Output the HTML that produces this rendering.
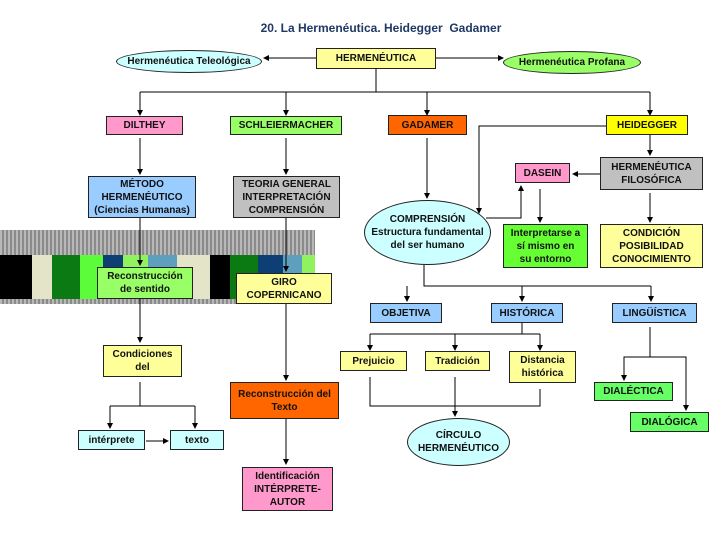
<!DOCTYPE html>
<html><head><meta charset="utf-8"><style>
body{margin:0;width:728px;height:546px;background:#fff;position:relative;overflow:hidden;font-family:"Liberation Sans",Arial,sans-serif;}
.b{position:absolute;box-sizing:border-box;border:1px solid #222;display:flex;align-items:center;justify-content:center;text-align:center;font-size:10px;font-weight:bold;line-height:13px;color:#111;}
.e{border-radius:50%;}
.s{position:absolute;}
</style></head><body>
<div style="position:absolute;left:0;top:21px;width:762px;text-align:center;font-size:12px;font-weight:bold;color:#1f3864;">20. La Hermenéutica. Heidegger&nbsp; Gadamer</div>

<!-- stripe band -->
<div class="s" style="left:0;top:230px;width:315px;height:74px;background:repeating-linear-gradient(90deg,#b8b8b8 0 2px,#8a8a8a 2px 4px);"></div>
<div class="s" style="left:0;top:255px;height:44px;width:315px;display:flex;">
<div style="width:32px;background:#000"></div><div style="width:20px;background:#e4e4c8"></div><div style="width:28px;background:#0b7a12"></div><div style="width:23px;background:#5dfc3a"></div><div style="width:20px;background:#0d3f75"></div><div style="width:25px;background:#8ff25e"></div><div style="width:29px;background:#5f9fbe"></div><div style="width:33px;background:#e4e4c8"></div><div style="width:20px;background:#000"></div><div style="width:28px;background:#0b7a12"></div><div style="width:25px;background:#0d3f75"></div><div style="width:19px;background:#5f9fbe"></div><div style="width:13px;background:#8ff25e"></div>
</div>

<svg class="s" style="left:0;top:0" width="728" height="546">
<defs><marker id="a" markerWidth="6" markerHeight="6" refX="5" refY="3" orient="auto"><path d="M0,0L6,3L0,6z" fill="#000"/></marker></defs>
<g stroke="#000" stroke-width="1" fill="none">
<path d="M316,58H264" marker-end="url(#a)"/>
<path d="M436,58H503" marker-end="url(#a)"/>
<path d="M376,69V92M140,92H650"/>
<path d="M140,92V115" marker-end="url(#a)"/><path d="M286,92V115" marker-end="url(#a)"/><path d="M427,92V115" marker-end="url(#a)"/><path d="M650,92V115" marker-end="url(#a)"/>
<path d="M140,138V174" marker-end="url(#a)"/><path d="M286,138V174" marker-end="url(#a)"/>
<path d="M427,138V198" marker-end="url(#a)"/>
<path d="M606,126H479V213" marker-end="url(#a)"/>
<path d="M650,135V155" marker-end="url(#a)"/>
<path d="M600,174H573" marker-end="url(#a)"/>
<path d="M486,218H521V186" marker-end="url(#a)"/>
<path d="M540,189V222" marker-end="url(#a)"/>
<path d="M650,193V222" marker-end="url(#a)"/>
<path d="M140,218V265" marker-end="url(#a)"/><path d="M286,218V271" marker-end="url(#a)"/>
<path d="M140,299V342" marker-end="url(#a)"/>
<path d="M286,304V380" marker-end="url(#a)"/>
<path d="M286,419V464" marker-end="url(#a)"/>
<path d="M140,382V406M110,406H195M110,406V428" marker-end="url(#a)"/><path d="M195,406V428" marker-end="url(#a)"/>
<path d="M146,441H168" marker-end="url(#a)"/>
<path d="M424,265V286H651M651,286V301" marker-end="url(#a)"/><path d="M407,286V301" marker-end="url(#a)"/><path d="M522,286V301" marker-end="url(#a)"/>
<path d="M522,323V334M370,334H540M370,334V350" marker-end="url(#a)"/><path d="M455,334V350" marker-end="url(#a)"/><path d="M540,334V350" marker-end="url(#a)"/>
<path d="M370,377V406H540V389M455,377V416" marker-end="url(#a)"/>
<path d="M650,327V357H624V380" marker-end="url(#a)"/><path d="M650,357H686V410" marker-end="url(#a)"/>
</g></svg>

<div class="b e" style="left:116px;top:50px;width:146px;height:23px;background:#ccffff;">Hermenéutica Teleológica</div>
<div class="b" style="left:316px;top:48px;width:120px;height:21px;background:#ffff99;">HERMENÉUTICA</div>
<div class="b e" style="left:503px;top:51px;width:138px;height:23px;background:#99ff66;">Hermenéutica Profana</div>
<div class="b" style="left:106px;top:116px;width:77px;height:19px;background:#ff99cc;">DILTHEY</div>
<div class="b" style="left:230px;top:116px;width:112px;height:19px;background:#99ff66;">SCHLEIERMACHER</div>
<div class="b" style="left:388px;top:115px;width:79px;height:20px;background:#ff6600;">GADAMER</div>
<div class="b" style="left:606px;top:115px;width:82px;height:20px;background:#ffff00;">HEIDEGGER</div>
<div class="b" style="left:88px;top:176px;width:108px;height:42px;background:#99ccff;">MÉTODO<br>HERMENÉUTICO<br>(Ciencias Humanas)</div>
<div class="b" style="left:233px;top:176px;width:107px;height:42px;background:#c0c0c0;">TEORIA GENERAL<br>INTERPRETACIÓN<br>COMPRENSIÓN</div>
<div class="b" style="left:515px;top:163px;width:55px;height:20px;background:#ff99cc;">DASEIN</div>
<div class="b" style="left:600px;top:157px;width:103px;height:33px;background:#c0c0c0;">HERMENÉUTICA<br>FILOSÓFICA</div>
<div class="b e" style="left:364px;top:200px;width:127px;height:65px;background:#ccffff;">COMPRENSIÓN<br>Estructura fundamental<br>del ser humano</div>
<div class="b" style="left:503px;top:224px;width:85px;height:44px;background:#66ff33;">Interpretarse a<br>sí mismo en<br>su entorno</div>
<div class="b" style="left:600px;top:224px;width:103px;height:44px;background:#ffff99;">CONDICIÓN<br>POSIBILIDAD<br>CONOCIMIENTO</div>
<div class="b" style="left:97px;top:267px;width:96px;height:32px;background:#99ff66;">Reconstrucción<br>de sentido</div>
<div class="b" style="left:236px;top:273px;width:96px;height:31px;background:#ffff99;">GIRO<br>COPERNICANO</div>
<div class="b" style="left:370px;top:303px;width:72px;height:20px;background:#99ccff;">OBJETIVA</div>
<div class="b" style="left:491px;top:303px;width:72px;height:20px;background:#99ccff;">HISTÓRICA</div>
<div class="b" style="left:612px;top:303px;width:85px;height:20px;background:#99ccff;">LINGÜÍSTICA</div>
<div class="b" style="left:103px;top:345px;width:79px;height:32px;background:#ffff99;">Condiciones<br>del</div>
<div class="b" style="left:340px;top:351px;width:67px;height:20px;background:#ffff99;">Prejuicio</div>
<div class="b" style="left:425px;top:351px;width:65px;height:20px;background:#ffff99;">Tradición</div>
<div class="b" style="left:509px;top:351px;width:67px;height:32px;background:#ffff99;">Distancia<br>histórica</div>
<div class="b" style="left:230px;top:382px;width:109px;height:37px;background:#ff6600;">Reconstrucción del<br>Texto</div>
<div class="b" style="left:594px;top:382px;width:79px;height:19px;background:#66ff66;">DIALÉCTICA</div>
<div class="b" style="left:630px;top:412px;width:79px;height:20px;background:#66ff66;">DIALÓGICA</div>
<div class="b e" style="left:407px;top:418px;width:103px;height:48px;background:#ccffff;">CÍRCULO<br>HERMENÉUTICO</div>
<div class="b" style="left:78px;top:430px;width:67px;height:20px;background:#ccffff;">intérprete</div>
<div class="b" style="left:170px;top:430px;width:54px;height:20px;background:#ccffff;">texto</div>
<div class="b" style="left:242px;top:467px;width:91px;height:44px;background:#ff99cc;">Identificación<br>INTÉRPRETE-<br>AUTOR</div>
</body></html>
